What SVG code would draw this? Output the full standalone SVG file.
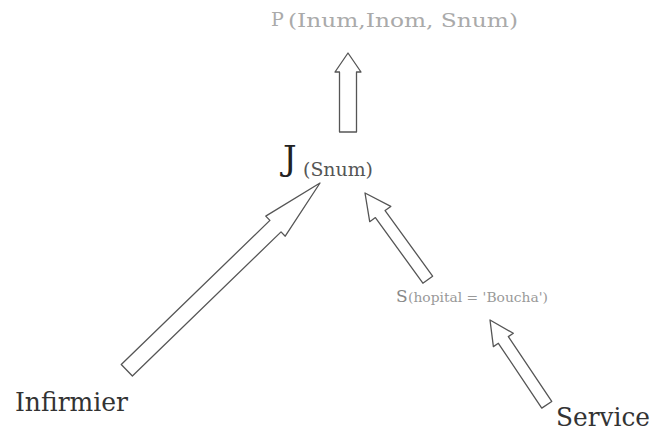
<svg xmlns="http://www.w3.org/2000/svg" width="655" height="436" viewBox="0 0 655 436">
<style>
.arr{fill:#fff;stroke:#555;stroke-width:1.3;stroke-linejoin:round}
text{font-family:"DejaVu Serif","Liberation Serif",serif}
</style>
<rect width="655" height="436" fill="#fff"/>
<g id="edges">
<path class="arr" transform="translate(348,53) rotate(-90)" d="M0,0 L-19,13 L-19,8.5 L-79,8.5 L-79,-8.5 L-19,-8.5 L-19,-13 Z"/>
<path class="arr" transform="translate(320,183) rotate(-44.1)" d="M0,0 L-62,14 L-62,8 L-269,8 L-269,-8 L-62,-8 L-62,-14 Z"/>
<path class="arr" transform="translate(365,193) rotate(-125.9)" d="M0,0 L-26,13 L-26,6 L-107,6 L-107,-6 L-26,-6 L-26,-13 Z"/>
<path class="arr" transform="translate(490,320) rotate(-123.8)" d="M0,0 L-24,12 L-24,6 L-102,6 L-102,-6 L-24,-6 L-24,-12 Z"/>
</g>
<g id="P">
<text x="271" y="26" font-size="19" fill="#aaa">P</text>
<text x="288" y="27" font-size="18" fill="#aaa" textLength="230" lengthAdjust="spacingAndGlyphs">(Inum,Inom, Snum)</text>
</g>
<g id="J">
<text x="283" y="170" font-size="34" fill="#222">J</text>
<text x="303" y="176" font-size="18" fill="#555" textLength="70" lengthAdjust="spacingAndGlyphs">(Snum)</text>
</g>
<g id="S">
<text x="396" y="302" font-size="17" fill="#888">S</text>
<text x="408" y="302" font-size="12" fill="#999" textLength="140" lengthAdjust="spacingAndGlyphs">(hopital = 'Boucha')</text>
</g>
<g id="Infirmier">
<text x="15" y="411" font-size="26" fill="#333" textLength="113" lengthAdjust="spacingAndGlyphs">Infirmier</text>
</g>
<g id="Service">
<text x="556" y="426" font-size="26" fill="#333" textLength="94" lengthAdjust="spacingAndGlyphs">Service</text>
</g>
</svg>
